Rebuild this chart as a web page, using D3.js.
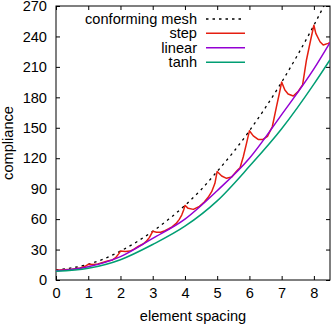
<!DOCTYPE html>
<html><head><meta charset="utf-8">
<script src="https://cdn.jsdelivr.net/npm/d3@7"></script>
<style>body{margin:0;background:#fff}svg{display:block}text{font-family:"Liberation Sans",Arial,sans-serif;fill:#000}</style>
</head><body><svg id="c" width="332" height="328"></svg>
<script>
const xTicks = [0,1,2,3,4,5,6,7,8];
const yTicks = [0,30,60,90,120,150,180,210,240,270];
const seriesNames = ["conforming mesh","step","linear","tanh"];

const meshH = [0,0.5,1,1.5,2,2.5,3,3.5,4,4.5,5,5.5,6,6.5,7,7.5,8,8.5];
const meshC = [10,12,15.5,21,28.5,37.5,48,60,73.5,89,107,126,147,170,195,222,251,282];

const linH = [0,1,2,3,4,5,6,7,8,8.5];
const linC = [9,13,23,41,60,88,120,163,208,234];

const tanhH = [0,1,2,3,4,5,6,7,8,8.5];
const tanhC = [8.5,11.5,20,35,53,78,112,149,193,217];

const stepH = [0,0.5,0.75,0.9,1.0,1.15,1.3,1.45,1.6,1.75,1.85,1.95,2.0,2.15,2.3,2.42,2.55,2.7,2.8,2.9,3.0,3.12,3.25,3.38,3.5,3.6,3.72,3.82,3.9,3.96,4.0,4.1,4.26,4.45,4.52,4.6,4.72,4.83,4.93,5.0,5.14,5.29,5.45,5.6,5.65,5.71,5.81,5.91,6.0,6.12,6.27,6.42,6.56,6.66,6.71,6.84,6.93,7.0,7.1,7.2,7.36,7.51,7.58,7.65,7.77,7.9,8.0,8.06,8.19,8.29,8.44,8.5];
const stepC = [9.5,10.5,11.8,13.5,15.5,15.3,15.8,17.3,18.7,19.8,22,26,28.5,28,28.5,30.5,33,35.5,38,42,48,47,47,48.5,50.5,52.4,55.5,59.5,64,69,73.5,70.6,69.6,72.6,74.5,76.8,81.5,87,95.3,107,102.5,100.2,101.5,107.2,108.8,110.6,121.5,134.7,147,142,138.5,138.5,141.5,148,151,170.8,184,195,187.2,183.3,181.3,185.6,189,192.3,216.8,236.5,251,243,234.8,231.6,233.2,234];

const colors = ["#000000","#e51e10","#9400d3","#009e73"];

const L=56,R=330,T=6,B=280;
const svg=d3.select("#c");
const x=d3.scaleLinear().domain([0,8.5]).range([L,R]);
const y=d3.scaleLinear().domain([0,270]).range([B,T]);

svg.append("defs").append("clipPath").attr("id","clip").append("rect")
  .attr("x",L).attr("y",T).attr("width",R-L).attr("height",B-T);

const fs="14.6px";
// axes
const gx=svg.append("g").attr("transform",`translate(0,${B})`)
  .call(d3.axisBottom(x).tickValues(xTicks).tickSize(-4).tickPadding(8).tickFormat(d3.format("d")));
const gy=svg.append("g").attr("transform",`translate(${L},0)`)
  .call(d3.axisLeft(y).tickValues(yTicks).tickSize(-4).tickPadding(9).tickFormat(d3.format("d")));
const gx2=svg.append("g").attr("transform",`translate(0,${T})`)
  .call(d3.axisTop(x).tickValues(xTicks).tickSize(-4).tickFormat(""));
const gy2=svg.append("g").attr("transform",`translate(${R},0)`)
  .call(d3.axisRight(y).tickValues(yTicks).tickSize(-4).tickFormat(""));
[gx,gy,gx2,gy2].forEach(g=>{
  g.select(".domain").remove();
  g.selectAll("line").attr("stroke","#000").attr("stroke-width",1);
  g.selectAll("text").style("font-size",fs).style("font-family","Liberation Sans, Arial, sans-serif").attr("fill","#000");
});
svg.append("rect").attr("x",L).attr("y",T).attr("width",R-L).attr("height",B-T)
  .attr("fill","none").attr("stroke","#000").attr("stroke-width",1);

const plot=svg.append("g").attr("clip-path","url(#clip)");
const lineSmooth=(H,C)=>d3.line().x((d,i)=>x(H[i])).y((d,i)=>y(C[i])).curve(d3.curveMonotoneX)(H);
const lineLin=(H,C)=>d3.line().x((d,i)=>x(H[i])).y((d,i)=>y(C[i]))(H);

plot.append("path").attr("d",lineSmooth(meshH,meshC)).attr("fill","none")
  .attr("stroke",colors[0]).attr("stroke-width",1.3).attr("stroke-dasharray","2.5,4");
plot.append("path").attr("d",lineLin(stepH,stepC)).attr("fill","none")
  .attr("stroke",colors[1]).attr("stroke-width",1.5).attr("stroke-linejoin","round");
plot.append("path").attr("d",lineSmooth(linH,linC)).attr("fill","none")
  .attr("stroke",colors[2]).attr("stroke-width",1.5);
plot.append("path").attr("d",lineSmooth(tanhH,tanhC)).attr("fill","none")
  .attr("stroke",colors[3]).attr("stroke-width",1.5);

// legend
const ly=[19,33.3,47.7,62.2];
seriesNames.forEach((n,i)=>{
  svg.append("text").attr("x",197).attr("y",ly[i]+5).attr("text-anchor","end")
    .style("font-size",fs).text(n);
  svg.append("line").attr("x1",206).attr("x2",245).attr("y1",ly[i]).attr("y2",ly[i])
    .attr("stroke",colors[i]).attr("stroke-width",i===0?1.3:1.5)
    .attr("stroke-dasharray",i===0?"2.5,4":null);
});

// titles
svg.append("text").attr("x",(L+R)/2).attr("y",321).attr("text-anchor","middle")
  .style("font-size",fs).text("element spacing");
svg.append("text").attr("transform",`translate(13,${(T+B)/2}) rotate(-90)`).attr("text-anchor","middle")
  .style("font-size",fs).text("compliance");
</script></body></html>
